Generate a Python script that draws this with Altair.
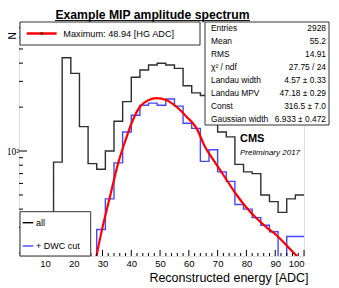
import altair as alt
import pandas as pd

# ---------------- data ----------------
bin_lo = [1, 4, 7, 10, 13, 16, 19, 22, 25, 28, 31, 34, 37, 40, 43, 46, 49,
          52, 55, 58, 61, 64, 67, 70, 73, 76, 79, 82, 85, 88, 91, 94, 97]
bin_width = 3
counts_all = [5, 5, 5, 5, 84, 435, 340, 147, 82, 75, 100, 160, 218, 320, 359, 388, 399,
              388, 368, 280, 250, 240, 190, 135, 125, 81, 72, 70, 50, 45, 38, 47, 50]
counts_dwc = [5, 5, 5, 5, 5, 5, 5, 5, 5, 29, 47, 83, 135, 176, 206, 213, 206,
              227, 203, 155, 143, 85, 102, 72, 62, 43, 40, 35, 31, 28, 5, 26, 26]

fit_x = [27.9, 30.0, 32.6, 35.4, 38.4, 40.1, 43.0, 45.9, 48.8, 52.3, 55.7, 59.2,
         62.7, 65.5, 68.5, 72.0, 76.0, 80.0, 83.5, 87.0, 91.0, 94.0, 97.5, 99.5]
fit_y = [19.1, 30, 48.6, 82, 125, 155, 201, 223, 230, 223, 201, 172,
         143, 108, 87, 68.5, 52, 41, 34.6, 30, 25.9, 22.5, 19.1, 17.5]

x_major = [10, 20, 30, 40, 50, 60, 70, 80, 90, 100]
x_minor = [v for v in range(2, 100, 2) if v % 10 != 0]
y_major = [100]
y_minor = [20, 30, 40, 50, 60, 70, 80, 90, 200, 300, 400, 500, 600, 700]

stats_labels = ["Entries", "Mean", "RMS", "χ² / ndf", "Landau width",
                "Landau MPV", "Const", "Gaussian width"]
stats_values = ["2928", "55.2", "14.91", "27.75 / 24", "4.57 ± 0.33",
                "47.18 ± 0.29", "316.5 ± 7.0", "6.933 ± 0.472"]

title_text = "Example MIP amplitude spectrum"
legend_top = "Maximum: 48.94 [HG ADC]"
legend_names = ["all", "+ DWC cut"]
x_title = "Reconstructed energy [ADC]"

# ---------------- geometry (page pixels) ----------------
LEFT, TOP, RIGHT, BOTTOM = 19, 22, 304, 256
W, H = RIGHT - LEFT, BOTTOM - TOP
FONT = "Liberation Sans"
BLACK_H = "#2e2e2e"
BLUE = "#4646ff"


def px(x):
    return x - LEFT


def py(y):
    return y - TOP


xs = alt.Scale(domain=[1, 100], nice=False, zero=False)
ys = alt.Scale(type="log", domain=[19.1, 765], nice=False)

ax_x = alt.Axis(values=x_major, format="d", ticks=False, domain=False,
                grid=False, labelFontSize=9.5, labelPadding=2,
                labelColor="black", labelFont=FONT,
                title=x_title, titleFont=FONT, titleFontSize=12.5,
                titleFontWeight="normal", titleColor="black",
                titleAlign="right", titleAnchor="end",
                titleX=px(308), titleY=281.5 - BOTTOM, titleBaseline="alphabetic")
ax_y = alt.Axis(values=y_major, labelExpr="'10²'", ticks=False,
                domain=False, grid=False, labelFontSize=9.5,
                labelPadding=0.5, labelColor="black",
                labelFont="Liberation Sans Narrow", title=None)


def X(field):
    return alt.X(field, scale=xs, axis=ax_x)


def Y(field):
    return alt.Y(field, scale=ys, axis=ax_y)


def steps(counts):
    rows = []
    for i, (lo, c) in enumerate(zip(bin_lo, counts)):
        rows.append({"x": lo, "y": c, "o": 2 * i})
        rows.append({"x": lo + bin_width, "y": c, "o": 2 * i + 1})
    return pd.DataFrame(rows)


one = pd.DataFrame({"a": [0]})

h_all = alt.Chart(steps(counts_all)).mark_line(
    color=BLACK_H, strokeWidth=1.4, clip=True
).encode(x=X("x:Q"), y=Y("y:Q"), order="o:Q")

h_dwc = alt.Chart(steps(counts_dwc)).mark_line(
    color=BLUE, strokeWidth=1.4, clip=True
).encode(x=X("x:Q"), y=Y("y:Q"), order="o:Q")

fit = alt.Chart(pd.DataFrame({"x": fit_x, "y": fit_y})).mark_line(
    color="#ff0000", strokeWidth=2.2, clip=True, interpolate="monotone"
).encode(x=X("x:Q"), y=Y("y:Q"))

xt_major = alt.Chart(pd.DataFrame({"x": x_major})).mark_rule(color="black", strokeWidth=1).encode(
    x=X("x:Q"), y=alt.value(H), y2=alt.value(H - 6))
xt_minor = alt.Chart(pd.DataFrame({"x": x_minor})).mark_rule(color="black", strokeWidth=1).encode(
    x=X("x:Q"), y=alt.value(H), y2=alt.value(H - 3))
yt_major = alt.Chart(pd.DataFrame({"y": y_major})).mark_rule(color="black", strokeWidth=1).encode(
    y=Y("y:Q"), x=alt.value(0), x2=alt.value(8))
yt_minor = alt.Chart(pd.DataFrame({"y": y_minor})).mark_rule(color="black", strokeWidth=1).encode(
    y=Y("y:Q"), x=alt.value(0), x2=alt.value(4))

layers = [h_all, h_dwc, fit, xt_major, xt_minor, yt_major, yt_minor]


def box(x1, x2, y1, y2):
    return alt.Chart(one).mark_rect(fill="white", stroke="#333333", strokeWidth=1).encode(
        x=alt.value(px(x1)), x2=alt.value(px(x2)), y=alt.value(py(y1)), y2=alt.value(py(y2)))


def rule(x1, x2, y, color, sw):
    return alt.Chart(one).mark_rule(color=color, strokeWidth=sw).encode(
        x=alt.value(px(x1)), x2=alt.value(px(x2)), y=alt.value(py(y)))


def text(t, x, y, size, align="left", baseline="middle", weight="normal",
         style="normal", angle=0, color="black"):
    kw = dict(text=t, align=align, baseline=baseline, fontSize=size, font=FONT,
              fontWeight=weight, fontStyle=style, color=color)
    if angle:
        kw["angle"] = angle
    return alt.Chart(one).mark_text(**kw).encode(x=alt.value(px(x)), y=alt.value(py(y)))


# title + underline
layers.append(text(title_text, 152.5, 19.0, 12.2, align="center",
                   baseline="alphabetic", weight="bold"))
layers.append(rule(55, 250, 20.6, "black", 1))
# y title
layers.append(text("N", 13, 36, 10, align="center", angle=270))

# top legend
layers.append(box(20, 200, TOP, 45))
layers.append(rule(26.7, 56.7, 33.5, "#ff0000", 2.5))
layers.append(rule(40.7, 42.7, 33.5, "#222222", 2.5))
layers.append(text(legend_top, 63.3, 34, 9.2))

# stats box
layers.append(box(205, 329, TOP, 125))
for i, (lab, val) in enumerate(zip(stats_labels, stats_values)):
    yy = 28.3 + 13.0 * i
    layers.append(text(lab, 211, yy, 8.4))
    layers.append(text(val, 326, yy, 8.4, align="right"))

# CMS label
layers.append(text("CMS", 240, 141.7, 11, baseline="alphabetic", weight="bold"))
layers.append(text("Preliminary 2017", 240, 154.5, 8, baseline="alphabetic", style="italic"))

# bottom legend
layers.append(box(20, 90.7, 211.7, BOTTOM))
layers.append(rule(22.7, 33.3, 222.7, "black", 1.4))
layers.append(text(legend_names[0], 36, 222.7, 9))
layers.append(rule(22.7, 33.3, 246, BLUE, 1.4))
layers.append(text(legend_names[1], 36, 246, 9))

chart = alt.layer(*layers).properties(
    width=W, height=H,
    autosize=alt.AutoSizeParams(type="none"),
    padding={"left": LEFT - 8, "top": TOP - 8, "right": 27, "bottom": 287 - BOTTOM},
    background="white",
).configure_view(stroke="black", strokeWidth=1).configure(font=FONT)

chart.save("out.html", embed_options={"renderer": "svg", "actions": False})
